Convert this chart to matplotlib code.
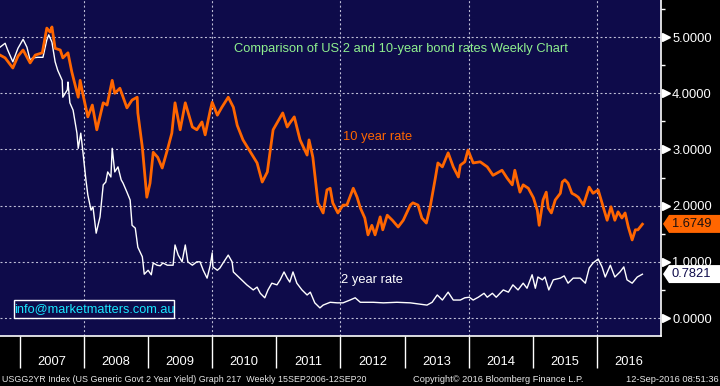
import numpy as np
import matplotlib.pyplot as plt
from matplotlib.patches import Polygon, Rectangle
from matplotlib.transforms import blended_transform_factory

plt.rcParams['font.family'] = ['Liberation Sans', 'DejaVu Sans']

# US 10-year yield, weekly (decimal year, %)
t10 = [2006.69, 2006.77, 2006.89, 2006.97, 2007.05, 2007.16, 2007.24, 2007.35, 2007.42, 2007.47,
       2007.50, 2007.55, 2007.63, 2007.67, 2007.75, 2007.81, 2007.91, 2007.94, 2007.98, 2008.06,
       2008.13, 2008.20, 2008.30, 2008.36, 2008.44, 2008.48, 2008.56, 2008.67, 2008.75, 2008.83,
       2008.84, 2008.91, 2008.98, 2009.03, 2009.08, 2009.15, 2009.22, 2009.30, 2009.37, 2009.42,
       2009.50, 2009.58, 2009.69, 2009.76, 2009.84, 2009.89, 2009.97, 2010.00, 2010.08, 2010.15,
       2010.25, 2010.33, 2010.39, 2010.48, 2010.56, 2010.70, 2010.78, 2010.86, 2010.90, 2010.95,
       2011.10, 2011.17, 2011.21, 2011.28, 2011.37, 2011.48, 2011.51, 2011.57, 2011.64, 2011.65,
       2011.73, 2011.79, 2011.84, 2011.88, 2011.96, 2012.04, 2012.10, 2012.20, 2012.26, 2012.31,
       2012.38, 2012.43, 2012.49, 2012.54, 2012.62, 2012.66, 2012.73, 2012.81, 2012.90, 2012.98,
       2013.09, 2013.13, 2013.21, 2013.27, 2013.34, 2013.40, 2013.48, 2013.52, 2013.59, 2013.68,
       2013.76, 2013.84, 2013.87, 2013.94, 2013.99, 2014.07, 2014.18, 2014.29, 2014.38, 2014.52,
       2014.60, 2014.68, 2014.72, 2014.80, 2014.85, 2014.93, 2015.01, 2015.07, 2015.10, 2015.16,
       2015.21, 2015.24, 2015.29, 2015.35, 2015.43, 2015.46, 2015.50, 2015.55, 2015.61, 2015.66,
       2015.71, 2015.79, 2015.83, 2015.88, 2015.94, 2016.02, 2016.08, 2016.16, 2016.22, 2016.28,
       2016.33, 2016.39, 2016.44, 2016.49, 2016.55, 2016.60, 2016.64, 2016.71]
r10 = [4.68, 4.63, 4.45, 4.66, 4.77, 4.54, 4.68, 4.72, 5.16, 5.09,
       5.18, 4.80, 4.77, 4.63, 4.72, 4.38, 3.93, 4.23, 4.00, 3.58,
       3.79, 3.35, 3.83, 3.79, 4.23, 4.00, 4.09, 3.74, 3.88, 3.93,
       3.65, 3.04, 2.15, 2.40, 2.95, 2.86, 2.67, 2.99, 3.29, 3.83,
       3.35, 3.83, 3.40, 3.35, 3.49, 3.26, 3.70, 3.84, 3.61, 3.75,
       3.93, 3.75, 3.43, 3.17, 3.02, 2.76, 2.42, 2.60, 2.94, 3.35,
       3.65, 3.40, 3.47, 3.58, 3.17, 2.90, 3.17, 2.86, 2.15, 2.05,
       1.87, 2.28, 2.31, 2.05, 1.87, 2.01, 2.01, 2.31, 2.15, 1.96,
       1.78, 1.48, 1.65, 1.48, 1.80, 1.57, 1.83, 1.74, 1.62, 1.74,
       2.01, 2.05, 2.01, 1.78, 1.69, 1.98, 2.49, 2.76, 2.69, 2.94,
       2.69, 2.51, 2.72, 2.78, 2.99, 2.76, 2.78, 2.69, 2.54, 2.63,
       2.49, 2.37, 2.63, 2.24, 2.37, 2.31, 2.14, 1.92, 1.65, 2.10,
       2.24, 1.96, 1.87, 2.10, 2.22, 2.42, 2.46, 2.40, 2.22, 2.19,
       2.15, 2.01, 2.15, 2.33, 2.22, 2.28, 2.05, 1.74, 1.98, 1.74,
       1.89, 1.78, 1.87, 1.62, 1.39, 1.57, 1.57, 1.67]

# US 2-year yield, weekly (decimal year, %)
t2 = [2006.69, 2006.77, 2006.81, 2006.89, 2006.97, 2007.05, 2007.11, 2007.16, 2007.20, 2007.28,
      2007.36, 2007.42, 2007.45, 2007.50, 2007.55, 2007.59, 2007.66, 2007.67, 2007.74, 2007.75,
      2007.78, 2007.83, 2007.89, 2007.91, 2007.95, 2007.98, 2008.03, 2008.06, 2008.11, 2008.14,
      2008.19, 2008.25, 2008.30, 2008.34, 2008.37, 2008.42, 2008.44, 2008.48, 2008.53, 2008.58,
      2008.61, 2008.67, 2008.72, 2008.75, 2008.80, 2008.84, 2008.91, 2008.94, 2009.00, 2009.05,
      2009.08, 2009.14, 2009.19, 2009.23, 2009.30, 2009.34, 2009.39, 2009.42, 2009.47, 2009.53,
      2009.58, 2009.62, 2009.69, 2009.76, 2009.81, 2009.86, 2009.92, 2009.97, 2010.00, 2010.01,
      2010.08, 2010.12, 2010.17, 2010.25, 2010.31, 2010.33, 2010.43, 2010.54, 2010.64, 2010.70,
      2010.75, 2010.82, 2010.87, 2010.93, 2011.01, 2011.06, 2011.12, 2011.17, 2011.21, 2011.26,
      2011.32, 2011.40, 2011.48, 2011.53, 2011.60, 2011.68, 2011.73, 2011.84, 2011.95, 2012.04,
      2012.15, 2012.23, 2012.31, 2012.51, 2012.67, 2012.88, 2013.09, 2013.35, 2013.43, 2013.51,
      2013.59, 2013.68, 2013.76, 2013.87, 2013.94, 2014.01, 2014.07, 2014.15, 2014.24, 2014.29,
      2014.37, 2014.43, 2014.54, 2014.62, 2014.69, 2014.77, 2014.85, 2014.91, 2014.99, 2015.04,
      2015.08, 2015.15, 2015.19, 2015.25, 2015.32, 2015.43, 2015.49, 2015.55, 2015.63, 2015.74,
      2015.82, 2015.88, 2015.94, 2016.02, 2016.08, 2016.13, 2016.21, 2016.28, 2016.36, 2016.42,
      2016.47, 2016.55, 2016.63, 2016.71]
r2 = [4.82, 4.89, 4.77, 4.56, 4.80, 4.96, 4.82, 4.59, 4.63, 4.64,
      4.64, 4.95, 5.04, 4.91, 4.56, 4.41, 4.23, 3.93, 4.06, 4.20,
      3.83, 3.70, 3.29, 3.02, 3.29, 2.99, 2.46, 2.19, 1.92, 1.98,
      1.51, 1.80, 2.37, 2.42, 2.60, 2.51, 3.02, 2.60, 2.69, 2.46,
      2.40, 2.24, 2.10, 1.65, 1.60, 1.26, 1.09, 0.78, 0.85, 0.77,
      0.98, 0.94, 0.93, 0.98, 0.94, 0.94, 0.94, 1.30, 1.12, 1.00,
      1.30, 1.00, 0.94, 1.00, 1.00, 0.85, 0.71, 0.94, 1.16, 0.91,
      0.85, 0.89, 0.98, 1.12, 1.00, 0.82, 0.71, 0.59, 0.50, 0.55,
      0.44, 0.36, 0.50, 0.62, 0.59, 0.68, 0.82, 0.71, 0.64, 0.82,
      0.62, 0.50, 0.41, 0.46, 0.27, 0.18, 0.23, 0.28, 0.27, 0.27,
      0.32, 0.36, 0.28, 0.28, 0.27, 0.28, 0.27, 0.23, 0.28, 0.41,
      0.32, 0.46, 0.32, 0.32, 0.36, 0.37, 0.32, 0.37, 0.44, 0.37,
      0.44, 0.37, 0.50, 0.46, 0.59, 0.50, 0.62, 0.53, 0.77, 0.53,
      0.73, 0.68, 0.73, 0.50, 0.68, 0.71, 0.75, 0.62, 0.71, 0.71,
      0.62, 0.89, 0.98, 1.05, 0.91, 0.73, 0.94, 0.73, 0.82, 0.91,
      0.68, 0.62, 0.73, 0.78]

last10 = 1.6749
last2 = 0.7821
years = list(range(2007, 2017))
yticks = [0, 1, 2, 3, 4, 5]

NAVY = '#0e0b4a'
ORANGE = '#ff6600'
W, H = 720, 386


def fx(x):
    return x / W


def fy(y):
    return 1 - y / H


fig = plt.figure(figsize=(7.2, 3.86), dpi=100, facecolor='black')
ax = fig.add_axes([0, fy(336), fx(661), 336 / H])
ax.set_facecolor(NAVY)
ax.set_xlim(2006.69, 2017.0)
ax.set_ylim(-0.32, 5.66)

# grid
for v in yticks:
    ax.axhline(v, color='#c0c0d8', lw=0.8, ls=(0, (1.8, 2.2)), zorder=1)
for yr in range(2008, 2017, 2):
    ax.axvline(yr, color='#c0c0d8', lw=0.8, ls=(0, (1.8, 2.2)), zorder=1)

ax.plot(t2, r2, color='white', lw=1.0, zorder=3)
ax.plot(t10, r10, color=ORANGE, lw=2.0, solid_joinstyle='round', zorder=4)

for s in ['top', 'left']:
    ax.spines[s].set_visible(False)
for s in ['right', 'bottom']:
    ax.spines[s].set_color('white')
    ax.spines[s].set_linewidth(1.2)

# x axis: year separators below the plot, labels in between
ax.set_xticks(years)
ax.tick_params(axis='x', length=23, width=1, color='white', direction='out', labelbottom=False)
tb = blended_transform_factory(ax.transData, fig.transFigure)
for yr in years:
    ax.text(yr + 0.5, fy(362), str(yr), transform=tb, color='white', fontsize=9.3,
            ha='center', va='center')

# y axis on the right
ax.yaxis.tick_right()
ax.set_yticks(yticks)
ax.set_yticklabels([f'{v:.4f}' for v in yticks])
ax.set_yticks(np.arange(0.5, 5.6, 1.0), minor=True)
ax.tick_params(axis='y', which='major', length=0, pad=8, labelcolor='white', labelsize=9.3)
ax.tick_params(axis='y', which='minor', length=3, width=1, color='white', direction='out')
ty = blended_transform_factory(ax.transAxes, ax.transData)
ax.plot([1 + 5 / 661] * len(yticks), yticks, ls='none', marker='>', ms=5.5, mfc='white',
        mec='white', transform=ty, clip_on=False)

# last value flags
fig.canvas.draw()
for val, fc, tc in [(last10, ORANGE, '#1a1010'), (last2, 'white', '#0e0b4a')]:
    yc = fig.transFigure.inverted().transform(ax.transData.transform((2010, val)))[1]
    hh = 9 / H
    poly = Polygon([(fx(663), yc), (fx(669), yc + hh), (1.0, yc + hh), (1.0, yc - hh), (fx(669), yc - hh)],
                   closed=True, transform=fig.transFigure, fc=fc, ec='none', zorder=5)
    fig.patches.append(poly)
    fig.text(fx(672), yc, f'{val:.4f}', color=tc, fontsize=9.3, ha='left', va='center', zorder=6)

# annotations
ax.text(234 / 661, 1 - 49 / 336, 'Comparison of US 2 and 10-year bond rates Weekly Chart',
        transform=ax.transAxes, color='#8ff08f', fontsize=9.3, ha='left', va='center')
ax.text(343 / 661, 1 - 137 / 336, '10 year rate', transform=ax.transAxes, color=ORANGE,
        fontsize=9.3, ha='left', va='center')
ax.text(341 / 661, 1 - 280 / 336, '2 year rate', transform=ax.transAxes, color='white',
        fontsize=9.3, ha='left', va='center')
ax.add_patch(Rectangle((14 / 661, 1 - 318 / 336), 160 / 661, 18 / 336, transform=ax.transAxes,
                       fc=NAVY, ec='white', lw=1.0, zorder=6))
ax.text(94 / 661, 1 - 309 / 336, 'info@marketmatters.com.au', transform=ax.transAxes,
        color='#19e8ff', fontsize=9.2, ha='center', va='center', zorder=7)

# footer
fig.text(fx(2), fy(379), 'USGG2YR Index (US Generic Govt 2 Year Yield) Graph 217  Weekly 15SEP2006-12SEP20',
         color='#e8e8e8', fontsize=6.4, ha='left', va='center')
fig.text(fx(413), fy(379), 'Copyright\u00a9 2016 Bloomberg Finance L.P.', color='#e8e8e8',
         fontsize=6.7, ha='left', va='center')
fig.text(fx(719), fy(379), '12-Sep-2016 08:51:36', color='#e8e8e8', fontsize=6.7,
         ha='right', va='center')

fig.savefig('out.png', dpi=100, facecolor='black')
